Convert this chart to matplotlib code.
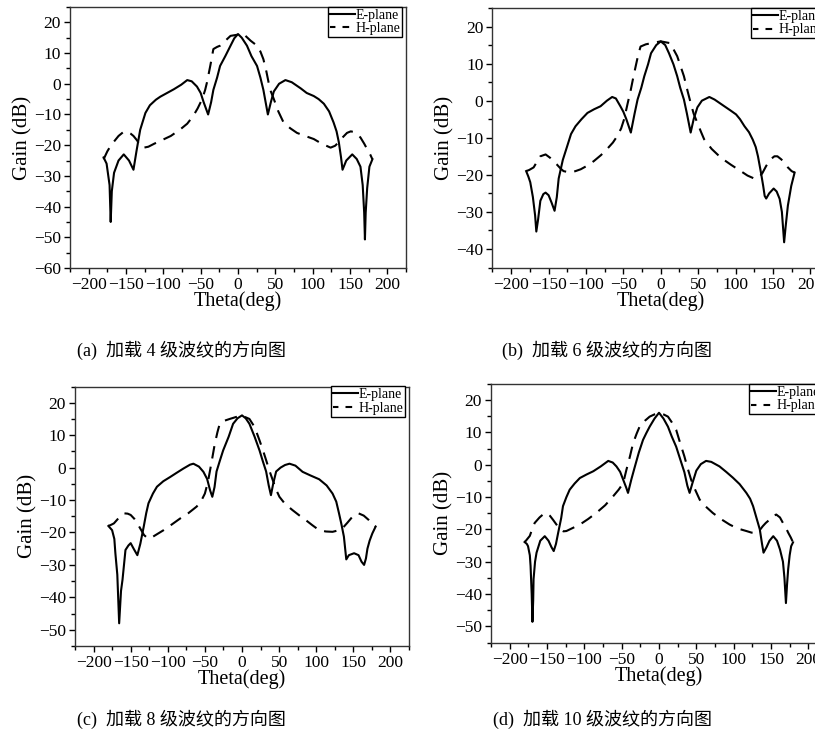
import matplotlib
matplotlib.use("Agg")
import matplotlib.pyplot as plt
from matplotlib.ticker import MultipleLocator
from matplotlib.lines import Line2D

# ---------------- data ----------------
# (a) 4 corrugations
e_theta_a = [-180, -176, -172, -170.5, -169, -166, -160, -153, -146, -140, -136, -131, -124, -118, -110, -104,
             -95, -86, -76, -68, -62, -55, -50, -46, -40, -36, -33, -28, -24, -17, -10, -5, 0, 5, 12, 18,
             25.5, 30, 34, 37, 40, 44, 48, 55, 63.5, 72, 84, 92, 101.5, 108, 115, 122, 128, 132, 135, 138,
             140, 145, 153, 159, 164, 167, 169, 170, 171, 173, 176, 180]
e_gain_a = [-24, -26, -33, -45, -35, -29, -25, -23, -25, -28, -22, -15, -9.5, -7, -5.2, -4.2,
            -3, -1.8, -0.3, 1.2, 0.8, -0.9, -3, -6, -10, -6, -2, 2, 5.8, 9, 12.4, 14.8, 16.2, 15, 12.4, 9,
            5.8, 2, -2, -6, -10, -6, -2.5, 0, 1.2, 0.5, -1.5, -3, -4, -5, -6.5, -9, -12.6, -15.5, -19, -24,
            -28, -25, -23, -24.5, -27, -33, -42, -50.7, -42, -34, -27, -24.6]
h_theta_a = [-180, -175, -170, -165, -160, -154, -149, -144, -140, -135, -131, -126, -120, -112, -104, -90,
             -77, -68, -60, -54, -48, -44, -41.6, -37, -33, -28, -24, -17, -10, 0, 10, 17, 25.5, 30, 34,
             38, 41, 44, 48, 54, 61, 70, 79, 90, 101.5, 112, 124, 130, 135, 140, 146, 151, 155, 160, 164,
             169, 173, 177, 180]
h_gain_a = [-24.6, -22, -20, -18.5, -17, -15.8, -15.5, -16.2, -17, -18.5, -20.3, -20.8, -20.5, -19.5, -18.6, -17,
            -14.8, -13, -10.5, -8, -5, -2, 0.4, 6, 11.3, 12, 12.4, 14, 15.6, 16, 15.6, 14, 12.4, 10.5, 8,
            4, 0.4, -2.5, -5, -9, -12.6, -14.5, -16, -17, -18, -19.5, -20.8, -20.2, -19, -17.5, -16, -15.5,
            -15.7, -16.5, -17.5, -19.5, -21.3, -23, -24.6]

# (b) 6 corrugations
e_theta_b = [-180, -177, -174.5, -171, -168, -166.4, -164, -161, -157, -154, -150, -146, -142, -139, -136.5,
             -131, -125, -120, -114, -106, -98, -89, -80.5, -72, -65, -60, -54, -50, -46, -40, -35, -31, -26,
             -22, -17, -13, -6, 0, 6, 11, 17, 22, 26, 31, 35, 40, 44, 49, 55, 65, 72, 85, 93, 100.7, 106, 112,
             118, 123, 127, 130, 134, 137, 139, 141, 145, 151, 155, 159, 162, 165, 167, 170, 174.5, 179]
e_gain_b = [-19, -20.5, -22, -26, -31, -35.3, -32, -27, -25.2, -24.8, -25.5, -27.5, -29.7, -26, -21,
            -16, -12.2, -9, -6.9, -5, -3.3, -2.3, -1.5, 0, 1, 0.6, -1.5, -3, -5, -8.6, -3.5, 0.3, 3.5,
            6.6, 9.8, 12.8, 15, 16, 15, 12.8, 9.8, 6.6, 3.5, 0.3, -3.5, -8.6, -5, -1.8, 0, 1, 0.3, -1.5, -2.6,
            -3.7, -5, -6.9, -8.5, -10.5, -12.5, -15, -19.4, -23, -25.7, -26.4, -25, -23.7, -24.5, -26.5, -30,
            -38.2, -34, -28.3, -23, -19.4]
h_theta_b = [-180, -176, -170, -165, -161, -154, -148, -143, -139, -134, -130, -121, -114, -107, -98, -89.5,
             -80, -71.6, -64, -58, -53, -49, -44, -40, -36.5, -33.5, -30, -27, -20, -13, 0, 13, 18, 22, 27,
             31, 36, 40, 44, 49, 54, 58, 68, 80.5, 94, 107, 116, 125, 132, 136, 141, 147, 152, 156, 161, 166,
             170, 175, 179]
h_gain_b = [-19, -18.7, -18, -16.3, -15, -14.5, -15.4, -16.5, -17.2, -18.3, -19, -19.4, -19, -18.5, -17.5, -16.3,
            -14.7, -13, -11.3, -9.5, -7.5, -5, -0.5, 3, 6.5, 9.3, 12.5, 14.6, 15.2, 15.5, 16, 15.5, 13.5, 12, 9,
            6.6, 2.5, -0.6, -3.5, -6, -8.5, -10.4, -13, -15.4, -17.3, -19, -20.2, -21, -20.6, -19.5, -17.6,
            -15.8, -15, -15, -15.8, -16.8, -18, -19, -19.4]

# (c) 8 corrugations
e_theta_c = [-180, -175, -172, -170.6, -168, -165.5, -163, -161, -157, -153, -150, -146, -141, -137, -132.4,
             -129, -126, -120, -114.6, -106, -96.8, -88, -79, -70, -65.5, -58, -52, -47, -43, -40, -37, -34.3,
             -30, -25.4, -18, -12, -6, 0, 5, 10, 17, 23.6, 28, 32.5, 36, 39, 42, 46, 52, 58, 64, 72, 81.6,
             92, 104, 114, 122, 127, 130.6, 134, 137.3, 140.5, 144, 151, 157, 161, 164.5, 167, 169, 172,
             175.6, 180]
e_gain_c = [-18, -19.3, -22, -26.4, -33, -48, -38, -34.6, -25.4, -24, -23.3, -25, -27, -23.5, -18.2,
            -14, -11, -8, -5.9, -4.2, -2.9, -1.6, -0.3, 0.9, 1.2, 0.3, -1.3, -3.5, -7, -9, -6, -1.2,
            2, 5.3, 9.5, 13.5, 15.2, 16.1, 15.2, 13.5, 9.5, 5.3, 2, -1.2, -5.5, -8.5, -5, -1.2, 0, 0.8, 1.2,
            0.6, -1.3, -2.4, -3.6, -5.5, -8, -10.5, -14, -17.5, -21.3, -28.3, -27, -26.4, -27, -29, -30, -28,
            -25, -22.5, -20.3, -18.2]
h_theta_c = [-180, -176, -172.6, -166, -159, -154, -150, -145, -141, -136, -132, -127, -123.5, -115, -105.7,
             -95, -83.4, -72, -61, -55, -50, -46, -43, -40, -36.6, -33, -30, -23, -16.5, -8, 0, 10, 17, 23.6,
             28, 32.5, 37, 41.5, 46, 50.4, 58, 68, 77, 86, 95, 104, 113, 122, 129, 135, 142, 148.6, 153, 157,
             164, 171, 176, 180]
h_gain_c = [-18, -17.6, -17.2, -15.5, -14.1, -14.2, -14.6, -15.8, -17.2, -19.2, -20.8, -21.8, -21.8, -20.6, -19.3,
            -17.6, -15.7, -14, -12, -10.3, -8, -4.5, -0.8, 3, 7.4, 11, 13.5, 14.5, 15, 15.6, 16, 15, 12.5, 8.4,
            5.5, 2.3, -1, -3.9, -6.8, -9, -11.2, -13.1, -14.7, -16.2, -17.8, -19.3, -19.7, -19.8, -19.4, -18.8,
            -17, -15.2, -14.4, -14.1, -14.8, -16.2, -17.4, -18.2]

# (d) 10 corrugations
e_theta_d = [-180, -177, -175.4, -173, -172, -170.5, -169.5, -168.5, -168, -166, -164, -159, -153, -148, -144,
             -141, -138, -135, -131, -128.6, -124, -119.6, -113, -106, -97, -88, -78, -68, -62, -57, -52, -48,
             -44, -41.5, -37, -32.6, -27, -21.4, -17, -12.5, -6, 0, 6, 12, 17, 23, 28, 34, 38, 41, 45, 50,
             56, 63, 70, 81, 90, 99, 108, 117, 122, 126, 130, 135, 138, 140, 144, 148, 153, 158, 162, 166, 168,
             170, 171.5, 173, 175, 177, 179.5]
e_gain_d = [-23.9, -24.5, -25.2, -28, -31.3, -40, -48.6, -42, -35.4, -30, -27.2, -23.5, -22.1, -23.5, -25.5,
            -26.7, -24.5, -21, -16.5, -12.8, -10, -7.7, -5.8, -4.1, -3, -2, -0.5, 1.2, 0.7, -0.5, -2.2, -4.6,
            -7, -8.7, -4.5, -0.8, 3.8, 7.7, 9.8, 11.8, 14.3, 16.1, 14.3, 11.8, 8.8, 5.6, 2, -2.3, -6.5, -8.7,
            -5.5, -1.8, 0.2, 1.2, 0.9, -0.5, -2.2, -4, -6, -8.7, -10.5, -12.8, -16, -20, -24.5, -27.2, -25.5,
            -23.5, -22.1, -23.5, -26.2, -30, -35, -42.8, -37, -32.3, -28, -25.2, -24]
h_theta_d = [-180, -176.5, -173, -170, -166.5, -160, -155, -151, -146, -142, -137, -133, -128, -124, -115,
             -106, -95, -84, -72, -61.6, -54, -48, -43.7, -39, -34.8, -30, -26, -19, -12.5, -6, 0, 6, 12, 17,
             23, 28, 34, 38, 43, 48, 54.5, 62, 72, 83, 94.6, 105, 117, 124, 130, 135, 139, 143, 148, 152, 157,
             162, 166, 170, 173, 176.5, 179.5]
h_gain_d = [-24, -23, -22, -20, -18, -16.3, -15.3, -14.9, -15.8, -17, -18.6, -20, -20.6, -20.5, -19.5,
            -18.5, -16.8, -14.9, -12.5, -9.8, -7.7, -5.7, -1.6, 2.5, 6.6, 9.6, 11.8, 13.6, 14.9, 15.6, 16, 15.6,
            14.9, 13.2, 10.8, 7, 2.6, -0.8, -4.6, -7.5, -10.8, -12.8, -14.9, -16.8, -18.5, -19.7, -20.5, -21,
            -21, -20.2, -19, -18, -17, -16, -15.4, -16.3, -18, -19.5, -21, -22.5, -24]

x_ticks = [-200, -150, -100, -50, 0, 50, 100, 150, 200]
captions = ["(a)  加载 4 级波纹的方向图", "(b)  加载 6 级波纹的方向图",
            "(c)  加载 8 级波纹的方向图", "(d)  加载 10 级波纹的方向图"]
series_labels = ["E-plane", "H-plane"]

# ---------------- layout ----------------
W, H = 815, 736
SERIF = ["Liberation Serif", "DejaVu Serif"]
plt.rcParams["font.family"] = SERIF
plt.rcParams["axes.unicode_minus"] = True

fig = plt.figure(figsize=(W / 100, H / 100), dpi=100)


def px_axes(left, top, right, bottom):
    return fig.add_axes([left / W, 1 - bottom / H, (right - left) / W, (bottom - top) / H])


panels = [
    (px_axes(70, 7, 406, 268), e_theta_a, e_gain_a, h_theta_a, h_gain_a, (-60, 25)),
    (px_axes(492.5, 8, 829, 267.5), e_theta_b, e_gain_b, h_theta_b, h_gain_b, (-45, 25)),
    (px_axes(75, 386.5, 409, 646), e_theta_c, e_gain_c, h_theta_c, h_gain_c, (-55, 25)),
    (px_axes(491, 384, 827, 642.5), e_theta_d, e_gain_d, h_theta_d, h_gain_d, (-55, 25)),
]

DASH = (0, (6, 4))
for ax, et, eg, ht, hg, ylim in panels:
    ax.plot(et, eg, color="black", lw=1.5, solid_joinstyle="round")
    ax.plot(ht, hg, color="black", lw=1.5, linestyle=DASH)
    ax.set_xlim(-225, 225)
    ax.set_ylim(*ylim)
    ax.set_xticks(x_ticks)
    ax.xaxis.set_minor_locator(MultipleLocator(25))
    ax.yaxis.set_major_locator(MultipleLocator(10))
    ax.yaxis.set_minor_locator(MultipleLocator(5))
    ax.tick_params(which="both", direction="out", top=False, right=False, labelsize=12.5, width=1)
    ax.tick_params(which="major", length=4.5, pad=2)
    ax.tick_params(which="minor", length=3)
    for s in ax.spines.values():
        s.set_linewidth(1.0)
        s.set_color("#333333")
    ax.set_xlabel("Theta(deg)", fontsize=14.5, labelpad=-1)
    ax.set_ylabel("Gain (dB)", fontsize=15, labelpad=1)
    handles = [Line2D([], [], color="black", lw=1.5),
               Line2D([], [], color="black", lw=1.5, linestyle=(0.6, (3.2, 3.4)))]
    leg = ax.legend(handles, series_labels, loc="upper right",
                    bbox_to_anchor=(1.0 - 4 / 336, 1.0), borderaxespad=0, fontsize=10,
                    frameon=True, fancybox=False, framealpha=1, edgecolor="black",
                    handlelength=1.8, handletextpad=0.05, borderpad=0.12, labelspacing=0.05)
    leg.get_frame().set_linewidth(1.0)

cap_pos = [(77, 350), (502, 350), (77, 719), (493, 719)]
for (cx, cy), txt in zip(cap_pos, captions):
    fig.text(cx / W, 1 - cy / H, txt, fontsize=13, ha="left", va="center",
             family=["Liberation Serif", "Noto Sans CJK SC"])

fig.savefig("out.png", dpi=100)
